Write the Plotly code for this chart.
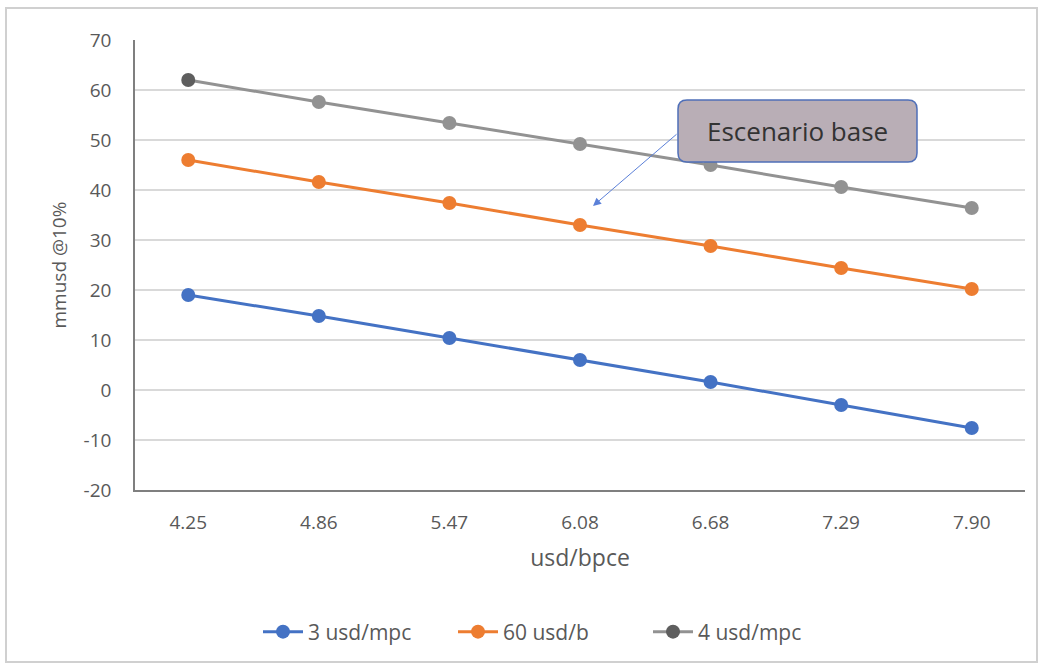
import plotly.graph_objects as go

categories = ["4.25", "4.86", "5.47", "6.08", "6.68", "7.29", "7.90"]
serie_3_usd_mpc = [19.0, 14.8, 10.4, 6.0, 1.6, -3.0, -7.6]
serie_60_usd_b = [46.0, 41.6, 37.4, 33.0, 28.8, 24.4, 20.2]
serie_4_usd_mpc = [62.0, 57.6, 53.4, 49.2, 45.0, 40.6, 36.4]
series_names = ["3 usd/mpc", "60 usd/b", "4 usd/mpc"]
series_colors = ["#4472C4", "#ED7D31", "#929292"]
y_ticks = [70, 60, 50, 40, 30, 20, 10, 0, -10, -20]
y_tick_text = ["70", "60", "50", "40", "30", "20", "10", "0", "-10", "-20"]

FONT = "'Open Sans', Lato, sans-serif"
W, H = 1045, 668
ML, MR, MT, MB = 135, 20, 40, 178
PW, PH = W - ML - MR, H - MT - MB

fig = go.Figure()
for i, (name, vals, col) in enumerate(zip(series_names,
                           [serie_3_usd_mpc, serie_60_usd_b, serie_4_usd_mpc],
                           series_colors)):
    mcol = col
    if i == 2:
        mcol = ["#5e5e5e"] + [col] * (len(vals) - 1)
    fig.add_trace(go.Scatter(
        x=categories, y=vals, name=name, mode="lines+markers",
        line=dict(color=col, width=3),
        marker=dict(color=mcol, size=14),
    ))

def px_to_paper_x(px):
    return (px - ML) / PW

def px_to_paper_y(py):
    return (H - MB - py) / PH

X, Y = px_to_paper_x, px_to_paper_y

# outer chart border
fig.add_shape(type="rect", xref="paper", yref="paper",
              x0=X(6), x1=X(1037), y0=Y(662), y1=Y(8),
              line=dict(color="#d0d0d0", width=2), fillcolor="rgba(0,0,0,0)",
              layer="below")

# rounded callout box
bx0, bx1, by0, by1, r = 678, 917, 100, 162, 9
path = (f"M {X(bx0+r)},{Y(by0)} L {X(bx1-r)},{Y(by0)} "
        f"Q {X(bx1)},{Y(by0)} {X(bx1)},{Y(by0+r)} "
        f"L {X(bx1)},{Y(by1-r)} Q {X(bx1)},{Y(by1)} {X(bx1-r)},{Y(by1)} "
        f"L {X(bx0+r)},{Y(by1)} Q {X(bx0)},{Y(by1)} {X(bx0)},{Y(by1-r)} "
        f"L {X(bx0)},{Y(by0+r)} Q {X(bx0)},{Y(by0)} {X(bx0+r)},{Y(by0)} Z")
fig.add_shape(type="path", xref="paper", yref="paper", path=path,
              fillcolor="#b9aeb6", line=dict(color="#4f6fb8", width=1.5))
fig.add_annotation(xref="paper", yref="paper",
                   x=X((bx0 + bx1) / 2), y=Y((by0 + by1) / 2),
                   xanchor="center", yanchor="middle",
                   text="Escenario base", showarrow=False,
                   font=dict(family=FONT, size=26, color="#333333"))
# arrow from callout to the base scenario
fig.add_annotation(xref="paper", yref="paper", axref="pixel", ayref="pixel",
                   x=X(593), y=Y(206), ax=85, ay=-73, text="",
                   showarrow=True, arrowhead=2, arrowsize=1.6, arrowwidth=1,
                   arrowcolor="#5b80d8")

fig.update_layout(
    width=W, height=H,
    margin=dict(l=ML, r=MR, t=MT, b=MB),
    paper_bgcolor="white", plot_bgcolor="white",
    font=dict(family=FONT, color="#595959", size=19),
    showlegend=True,
    legend=dict(orientation="h", x=X(258), xanchor="left",
                y=Y(632), yanchor="middle",
                font=dict(size=21, color="#595959"), itemwidth=40,
                entrywidth=140, entrywidthmode="pixels"),
    xaxis=dict(type="category", showgrid=False, showline=True,
               linecolor="#7f7f7f", linewidth=1.5, ticks="",
               ticklabelstandoff=14,
               title=dict(text="usd/bpce", font=dict(size=23), standoff=16),
               tickfont=dict(size=19)),
    yaxis=dict(range=[-20, 70], tickvals=y_ticks, ticktext=y_tick_text,
               showgrid=True, gridcolor="#d9d9d9", gridwidth=1.5, zeroline=False,
               showline=True, linecolor="#7f7f7f", linewidth=1.5,
               ticks="", ticklabelstandoff=18,
               title=dict(text="mmusd @10%", font=dict(size=19), standoff=12),
               tickfont=dict(size=19)),
)

fig.write_html("out.html")
